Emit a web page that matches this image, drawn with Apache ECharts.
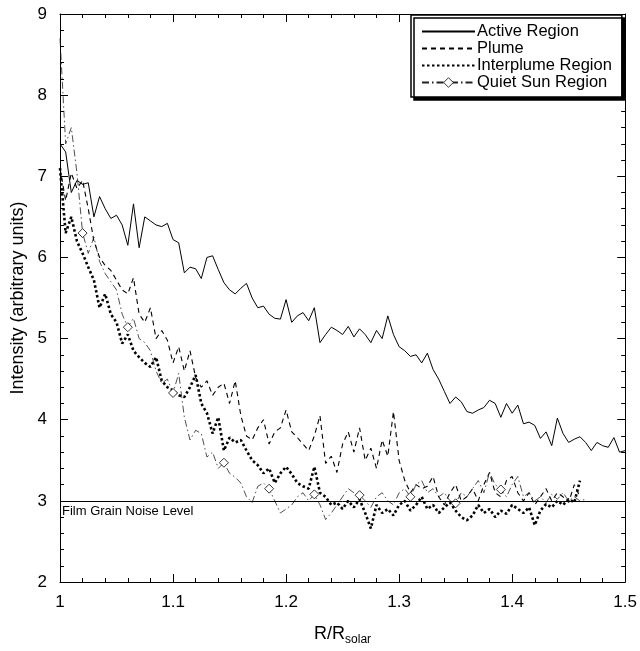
<!DOCTYPE html>
<html>
<head>
<meta charset="utf-8">
<title>Intensity vs R/Rsolar</title>
<script src="https://cdn.jsdelivr.net/npm/echarts@6/dist/echarts.min.js"></script>
<style>
  html, body { margin: 0; padding: 0; background: #fff; }
  #chart { width: 640px; height: 651px; }
</style>
</head>
<body>
<div id="chart"></div>
<script>
// R/Rsolar sample positions
const radius = [
  1.000, 1.005, 1.010, 1.015, 1.020, 1.025, 1.030, 1.035, 1.040, 1.045,
  1.050, 1.055, 1.060, 1.065, 1.070, 1.075, 1.080, 1.085, 1.090, 1.095,
  1.100, 1.105, 1.110, 1.115, 1.120, 1.125, 1.130, 1.135, 1.140, 1.145,
  1.150, 1.155, 1.160, 1.165, 1.170, 1.175, 1.180, 1.185, 1.190, 1.195,
  1.200, 1.205, 1.210, 1.215, 1.220, 1.225, 1.230, 1.235, 1.240, 1.245,
  1.250, 1.255, 1.260, 1.265, 1.270, 1.275, 1.280, 1.285, 1.290, 1.295,
  1.300, 1.305, 1.310, 1.315, 1.320, 1.325, 1.330, 1.335, 1.340, 1.345,
  1.350, 1.355, 1.360, 1.365, 1.370, 1.375, 1.380, 1.385, 1.390, 1.395,
  1.400, 1.405, 1.410, 1.415, 1.420, 1.425, 1.430, 1.435, 1.440, 1.445,
  1.450, 1.455, 1.460, 1.465, 1.470, 1.475, 1.480, 1.485, 1.490, 1.495,
  1.500
]

// intensity readings (arbitrary units), one per radius sample
const activeRegion = [
  7.40, 7.30, 6.80, 6.95, 6.90, 6.92, 6.50, 6.75, 6.60, 6.48,
  6.52, 6.40, 6.15, 6.66, 6.12, 6.50, 6.45, 6.40, 6.38, 6.42,
  6.22, 6.18, 5.81, 5.88, 5.86, 5.74, 6.00, 6.02, 5.85, 5.69,
  5.60, 5.55, 5.62, 5.68, 5.50, 5.38, 5.40, 5.30, 5.25, 5.24,
  5.48, 5.20, 5.28, 5.32, 5.22, 5.38, 4.95, 5.05, 5.14, 5.10,
  5.05, 5.15, 5.02, 5.12, 5.05, 4.95, 5.10, 5.00, 5.28, 5.05,
  4.90, 4.85, 4.78, 4.80, 4.70, 4.82, 4.62, 4.50, 4.35, 4.20,
  4.28, 4.22, 4.10, 4.08, 4.12, 4.15, 4.24, 4.20, 4.03, 4.20,
  4.08, 4.18, 3.95, 3.97, 3.93, 3.77, 3.85, 3.68, 4.02, 3.83,
  3.72, 3.76, 3.79, 3.72, 3.62, 3.72, 3.68, 3.66, 3.78, 3.60,
  3.62
]

const plume = [
  7.10, 6.70, 7.04, 6.85, 6.95, 6.60, 6.20, 6.00, 5.90, 5.84,
  5.72, 5.60, 5.55, 5.75, 5.30, 5.20, 5.38, 5.00, 5.10, 4.98,
  4.70, 4.90, 4.60, 4.85, 4.52, 4.40, 4.48, 4.30, 4.40, 4.45,
  4.20, 4.48, 4.05, 3.80, 3.75, 3.90, 4.00, 3.70, 3.85, 3.90,
  4.12, 3.85, 3.78, 3.70, 3.62, 3.80, 4.05, 3.46, 3.55, 3.35,
  3.70, 3.85, 3.60, 3.90, 3.50, 3.65, 3.40, 3.75, 3.55, 4.10,
  3.50, 3.25, 3.10, 3.20, 3.15, 3.18, 3.30, 3.05, 2.95, 3.10,
  3.20, 3.00, 3.05, 3.15, 3.00, 3.20, 3.35, 3.10, 3.05, 3.25,
  3.30, 3.10, 3.00, 3.10, 2.95, 3.05, 3.15, 3.00, 3.10, 3.05,
  2.98, 3.20, 3.05
]

const interplume = [
  7.10, 6.30, 6.50, 6.20, 6.05, 5.88, 5.72, 5.38, 5.55, 5.30,
  5.20, 4.94, 5.05, 4.85, 4.77, 4.70, 4.65, 4.77, 4.48, 4.40,
  4.36, 4.30, 4.28, 4.40, 4.55, 4.20, 4.08, 3.83, 4.03, 3.62,
  3.78, 3.72, 3.75, 3.62, 3.50, 3.44, 3.34, 3.40, 3.22, 3.34,
  3.42, 3.33, 3.22, 3.18, 3.15, 3.42, 3.10, 3.05, 2.95, 2.98,
  2.90, 3.00, 2.92, 3.02, 2.85, 2.66, 2.95, 2.85, 2.90, 2.82,
  2.95, 3.00, 2.88, 2.95, 3.05, 2.90, 2.95, 2.85, 2.92, 2.98,
  2.88, 2.80, 2.76, 2.82, 2.95, 2.85, 2.90, 2.80, 2.88, 2.84,
  2.95, 2.90, 2.85, 2.92, 2.70, 2.88, 2.96, 2.92, 3.00, 2.95,
  3.02, 2.98, 3.25
]

const quietSun = [
  8.70, 7.40, 7.60, 7.04, 6.30, 6.05, 6.25, 5.95, 5.80, 5.70,
  5.60, 5.30, 5.14, 5.25, 5.00, 4.95, 4.85, 4.60, 4.45, 4.50,
  4.33, 4.57, 4.03, 3.75, 3.87, 3.83, 3.54, 3.60, 3.40, 3.47,
  3.34, 3.29, 3.22, 3.05, 2.98, 3.18, 3.22, 3.15, 3.00, 2.85,
  2.90, 2.95, 3.05, 3.10, 3.00, 3.08, 2.95, 2.77, 2.85, 2.95,
  3.05, 3.15, 3.10, 3.07, 3.00, 2.92, 3.05, 3.10, 3.00, 2.95,
  3.10, 3.15, 3.05, 3.20, 3.25, 3.10, 3.15, 3.05, 3.10, 3.00,
  2.97, 3.10, 3.05, 3.15, 3.25, 3.10, 3.35, 3.20, 3.14, 3.05,
  3.20, 3.30, 3.05, 3.10, 3.00, 3.05, 2.98, 3.08, 3.02, 3.10,
  3.00, 3.05, 3.00, 3.02
]

// radii where the quiet sun curve carries a diamond marker
const quietMarkerR = [1.020, 1.060, 1.100, 1.145, 1.185, 1.225, 1.265, 1.310, 1.350, 1.390]

const noiseLevel = 3

const FONT = 'Liberation Sans, Arial, sans-serif'

function pairs(ys) {
  return ys.map((y, i) => [radius[i], y])
}

const chart = echarts.init(document.getElementById('chart'))

const tickStyle = { show: true, inside: true, length: 8, lineStyle: { color: '#000', width: 1 } }
const minorStyle = { show: true, splitNumber: 5, length: 4, lineStyle: { color: '#000', width: 1 } }
// line-only legend samples (hide the default marker)
const noMarker = { opacity: 0 }
// hollow diamond marker
const diamondStyle = { color: '#fff', borderColor: '#000', borderWidth: 0.8 }

chart.setOption({
  animation: false,
  backgroundColor: '#fff',
  grid: { left: 60, right: 12, top: 14, bottom: 69 },
  legend: {
    orient: 'vertical',
    left: 411,
    top: 15,
    padding: [8, 10, 6, 10],
    itemGap: 0,
    itemWidth: 53,
    itemHeight: 12,
    backgroundColor: '#fff',
    borderColor: '#000',
    borderWidth: 1.5,
    shadowColor: '#000',
    shadowBlur: 0,
    shadowOffsetX: 3,
    shadowOffsetY: 3,
    textStyle: { fontFamily: FONT, fontSize: 16.5, color: '#000', padding: [0, 0, 0, -3] },
    data: [
      { name: 'Active Region', itemStyle: noMarker },
      { name: 'Plume', itemStyle: noMarker },
      { name: 'Interplume Region', itemStyle: noMarker },
      { name: 'Quiet Sun Region', itemStyle: diamondStyle }
    ]
  },
  xAxis: [
    {
      type: 'value',
      min: 1,
      max: 1.5,
      interval: 0.1,
      name: '{a|R/R}{b|solar}',
      nameLocation: 'middle',
      nameGap: 40,
      nameTextStyle: {
        rich: {
          a: { fontFamily: FONT, fontSize: 18, color: '#000' },
          b: { fontFamily: FONT, fontSize: 12, color: '#000', padding: [12, 0, 0, 0] }
        }
      },
      axisLine: { lineStyle: { color: '#000', width: 1 } },
      axisTick: tickStyle,
      minorTick: minorStyle,
      splitLine: { show: false },
      axisLabel: { fontFamily: FONT, fontSize: 17, color: '#000', margin: 12 }
    },
    {
      type: 'value',
      position: 'top',
      min: 1,
      max: 1.5,
      interval: 0.1,
      axisLine: { lineStyle: { color: '#000', width: 1 } },
      axisTick: tickStyle,
      minorTick: minorStyle,
      splitLine: { show: false },
      axisLabel: { show: false }
    }
  ],
  yAxis: [
    {
      type: 'value',
      min: 2,
      max: 9,
      interval: 1,
      name: 'Intensity (arbitrary units)',
      nameLocation: 'middle',
      nameGap: 30,
      nameTextStyle: { fontFamily: FONT, fontSize: 18, color: '#000' },
      axisLine: { show: true, lineStyle: { color: '#000', width: 1 } },
      axisTick: tickStyle,
      minorTick: minorStyle,
      splitLine: { show: false },
      axisLabel: { fontFamily: FONT, fontSize: 17, color: '#000', margin: 13 }
    },
    {
      type: 'value',
      position: 'right',
      min: 2,
      max: 9,
      interval: 1,
      axisLine: { show: true, lineStyle: { color: '#000', width: 1 } },
      axisTick: tickStyle,
      minorTick: minorStyle,
      splitLine: { show: false },
      axisLabel: { show: false }
    }
  ],
  series: [
    {
      name: 'Active Region',
      type: 'line',
      data: pairs(activeRegion),
      symbol: 'none',
      lineStyle: { color: '#000', width: 1 },
      itemStyle: { color: '#000' },
      markLine: {
        silent: true,
        symbol: ['none', 'none'],
        lineStyle: { color: '#000', width: 1, type: 'solid' },
        label: {
          position: 'insideStartBottom',
          formatter: 'Film Grain Noise Level',
          fontFamily: FONT,
          fontSize: 13,
          color: '#000',
          distance: [2, 4]
        },
        data: [{ yAxis: noiseLevel }]
      }
    },
    {
      name: 'Plume',
      type: 'line',
      data: pairs(plume),
      symbol: 'none',
      lineStyle: { color: '#000', width: 1.1, type: [5, 4] },
      itemStyle: { color: '#000' }
    },
    {
      name: 'Interplume Region',
      type: 'line',
      data: pairs(interplume),
      symbol: 'none',
      lineStyle: { color: '#000', width: 2.6, type: [2.5, 2.5] },
      itemStyle: { color: '#000' }
    },
    {
      name: 'Quiet Sun Region',
      type: 'line',
      data: pairs(quietSun),
      symbol: 'diamond',
      showSymbol: true,
      showAllSymbol: true,
      symbolSize: (val) => quietMarkerR.some(r => Math.abs(r - val[0]) < 1e-6) ? 9 : 0,
      lineStyle: { color: '#222', width: 0.8, type: [7, 3, 1.5, 3] },
      itemStyle: diamondStyle
    }
  ]
})
</script>
</body>
</html>
